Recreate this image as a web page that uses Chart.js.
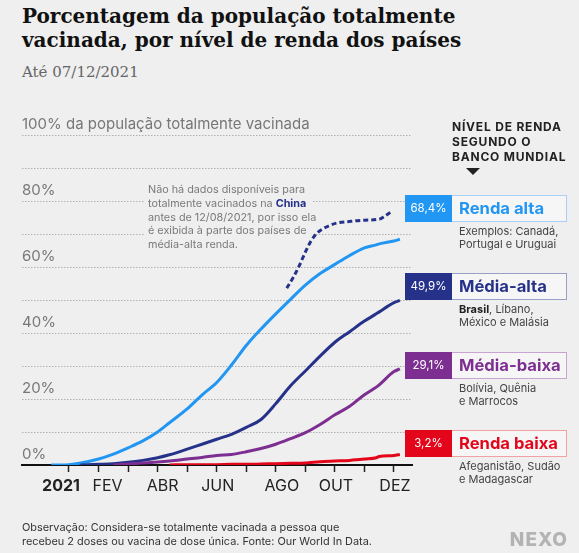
<!DOCTYPE html>
<html lang="pt-BR">
<head>
<meta charset="UTF-8">
<title>Porcentagem da população totalmente vacinada</title>
<script src="https://cdn.jsdelivr.net/npm/chart.js"></script>
<style>
  body { margin: 0; background: #efefef; }
  .wrap { position: relative; width: 579px; height: 553px; overflow: hidden; background: #efefef; }
  #chart { position: absolute; left: 0; top: 0; }
  .title { position: absolute; left: 22px; top: 5px; margin: 0; font: bold 20px/23.5px "DejaVu Serif", serif; color: #111; }
  .sub { position: absolute; left: 22px; top: 63px; margin: 0; font: 15px/18px "DejaVu Serif", serif; color: #666; }
  .note { position: absolute; left: 22px; top: 520px; margin: 0; font: 10.9px/14px Inter, sans-serif; color: #333; }
  .logo { position: absolute; right: 11px; top: 530px; font: 800 19px/20px Inter, sans-serif; color: #b3b3b3; letter-spacing: 1px; }
</style>
</head>
<body>
<div class="wrap">
  <h1 class="title">Porcentagem da população totalmente<br>vacinada, por nível de renda dos países</h1>
  <p class="sub">Até 07/12/2021</p>
  <canvas id="chart" width="579" height="553"></canvas>
  <p class="note">Observação: Considera-se totalmente vacinada a pessoa que<br>recebeu 2 doses ou vacina de dose única. Fonte: Our World In Data.</p>
  <div class="logo">NEXO</div>
</div>
<script>
// months since 1 Jan 2021
const monthTicks = [0, 1, 2, 3, 4, 5, 6, 7, 8, 9, 10, 11];
const monthLabels = ['2021', 'FEV', '', 'ABR', '', 'JUN', '', 'AGO', '', 'OUT', '', 'DEZ'];

const days = [-0.6, -0.3, 0, 0.4, 1, 1.5, 2, 2.5, 3, 3.4, 4, 4.5, 5, 5.5, 6, 6.5, 7, 7.5, 8, 8.5, 9, 9.5, 10, 10.4, 10.5, 11, 11.2];

const rendaAlta  = [0, 0, 0.1, 0.6, 1.8, 3.3, 5.2, 7.3, 10, 12.8, 17, 21.2, 25, 30.3, 36.2, 41.2, 45.8, 50.2, 54.5, 58, 60.8, 63.5, 65.8, 66.7, 67, 67.9, 68.4];
const mediaAlta  = [null, null, null, 0, 0.2, 0.4, 0.8, 1.4, 2.2, 3.1, 4.8, 6.3, 7.8, 9.3, 11.4, 13.8, 18.6, 24, 28.5, 33, 37.2, 40.4, 43.6, 45.8, 46.4, 49.2, 49.9];
const mediaBaixa = [null, null, null, null, null, 0, 0.3, 0.6, 0.9, 1.2, 1.8, 2.3, 2.9, 3.2, 4, 5, 6.3, 8, 9.8, 12.3, 15.2, 17.8, 21.3, 23.6, 24.3, 28.3, 29.1];
const rendaBaixa = [null, null, null, null, null, null, null, null, null, 0, 0.1, 0.1, 0.1, 0.2, 0.2, 0.3, 0.4, 0.5, 0.6, 1.0, 1.2, 1.4, 1.8, 2.2, 2.6, 2.9, 3.2];

// China, only from 12/08/2021
const chinaDays = [7.37, 7.6, 7.8, 8.0, 8.2, 8.4, 8.6, 8.8, 9.05, 9.5, 10, 10.5, 10.7, 10.9];
const china     = [53.6, 57, 60.5, 64.5, 68, 70.3, 71.6, 72.5, 73.3, 73.8, 74.2, 74.5, 75.5, 76.7];

const groupNames = ['Renda alta', 'Média-alta', 'Média-baixa', 'Renda baixa'];
const groupFinal = [68.4, 49.9, 29.1, 3.2];
const groupDesc = [
  ['Exemplos: Canadá,', 'Portugal e Uruguai'],
  ['**Brasil**, Líbano,', 'México e Malásia'],
  ['Bolívia, Quênia', 'e Marrocos'],
  ['Afeganistão, Sudão', 'e Madagascar']
];
const groupColors = ['#2196f3', '#26328a', '#7d2e91', '#e3061a'];
const groupBorders = ['#a9d0f5', '#9a9fc8', '#c9a3d2', '#f1a0a6'];

const annotationLines = [
  'Não há dados disponíveis para',
  'totalmente vacinados na **China**',
  'antes de 12/08/2021, por isso ela',
  'é exibida à parte dos países de',
  'média-alta renda.'
];

// small nudges of the month labels, as in the original layout
const labelShift = [-8, 9, 0, 5, 0, 1, 0, 6, 0, 1, 0, 1];

const toPoints = (xs, ys) => xs.map((x, i) => ({ x: x, y: ys[i] }));

// draws a line with **bold** parts
function drawRuns(ctx, text, x, y, size, color, boldColor) {
  const parts = text.split('**');
  parts.forEach((p, i) => {
    const bold = i % 2 === 1;
    ctx.font = (bold ? 'bold ' : '') + size + 'px Inter';
    ctx.fillStyle = bold ? boldColor : color;
    ctx.fillText(p, x, y);
    x += ctx.measureText(p).width;
  });
}

// China note, on a patch of background so the grid does not run through it
const annotationPlugin = {
  id: 'annotation',
  beforeDatasetsDraw(chart) {
    const ctx = chart.ctx;
    ctx.save();
    ctx.textBaseline = 'middle';
    ctx.textAlign = 'left';
    annotationLines.forEach((line, i) => {
      const y = 190 + i * 13.7;
      ctx.font = 'bold 10.8px Inter';
      const w = ctx.measureText(line.replace(/\*\*/g, '')).width;
      ctx.fillStyle = '#efefef';
      ctx.fillRect(145, y - 7, w + 5, 14);
      drawRuns(ctx, line, 148, y, 10.8, '#7a7a7a', '#26328a');
    });
    ctx.restore();
  }
};

// month names sit a little off their ticks in the original
const monthLabelPlugin = {
  id: 'monthLabels',
  afterDraw(chart) {
    const { ctx, scales: { x, y } } = chart;
    const base = y.getPixelForValue(0);
    ctx.save();
    ctx.textAlign = 'center';
    ctx.textBaseline = 'middle';
    ctx.fillStyle = '#222';
    monthTicks.forEach((m, i) => {
      if (monthLabels[i]) {
        ctx.font = (i === 0 ? 'bold ' : '') + '16px Inter';
        ctx.fillText(monthLabels[i], x.getPixelForValue(m) + labelShift[i], base + 21);
      }
    });
    ctx.restore();
  }
};

const panelTops = [195, 273, 352, 430];

const panelPlugin = {
  id: 'panel',
  afterDraw(chart) {
    const ctx = chart.ctx;
    ctx.save();
    ctx.textBaseline = 'middle';
    ctx.textAlign = 'left';
    ctx.fillStyle = '#222';
    ctx.font = 'bold 12px Inter';
    ctx.letterSpacing = '0.8px';
    ['NÍVEL DE RENDA', 'SEGUNDO O', 'BANCO MUNDIAL'].forEach((t, i) => ctx.fillText(t, 452, 127 + i * 15));
    ctx.letterSpacing = '0px';
    ctx.beginPath();
    ctx.moveTo(466, 168);
    ctx.lineTo(480, 168);
    ctx.lineTo(473, 175);
    ctx.closePath();
    ctx.fill();

    groupNames.forEach((name, i) => {
      const top = panelTops[i];
      const h = 27;
      ctx.fillStyle = groupBorders[i];
      ctx.fillRect(405, top, 162, h);
      ctx.fillStyle = '#f6f6f6';
      ctx.fillRect(406, top + 1, 160, h - 2);
      ctx.fillStyle = groupColors[i];
      ctx.fillRect(405, top, 47, h);

      ctx.textAlign = 'center';
      ctx.fillStyle = '#fff';
      ctx.font = '11.5px Inter';
      ctx.fillText(groupFinal[i].toFixed(1).replace('.', ',') + '%', 428.5, top + h / 2 + 0.5);

      ctx.textAlign = 'left';
      ctx.fillStyle = groupColors[i];
      ctx.font = 'bold 16.6px Inter';
      ctx.fillText(name, 459, top + h / 2 + 0.5);

      groupDesc[i].forEach((line, j) => {
        drawRuns(ctx, line, 459, top + 37 + j * 13, 11, '#444', '#222');
      });
    });
    ctx.restore();
  }
};

const lineStyle = { borderWidth: 3, pointRadius: 0, fill: false, cubicInterpolationMode: 'monotone' };

new Chart(document.getElementById('chart'), {
  type: 'line',
  data: {
    datasets: [
      Object.assign({ label: 'Renda baixa', data: toPoints(days, rendaBaixa), borderColor: groupColors[3] }, lineStyle),
      Object.assign({ label: 'Média-baixa', data: toPoints(days, mediaBaixa), borderColor: groupColors[2] }, lineStyle),
      Object.assign({ label: 'China', data: toPoints(chinaDays, china), borderColor: groupColors[1], borderDash: [5, 3] }, lineStyle),
      Object.assign({ label: 'Média-alta', data: toPoints(days, mediaAlta), borderColor: groupColors[1] }, lineStyle),
      Object.assign({ label: 'Renda alta', data: toPoints(days, rendaAlta), borderColor: groupColors[0] }, lineStyle)
    ]
  },
  options: {
    responsive: false,
    animation: false,
    layout: { padding: { left: 22, right: 167, top: 135, bottom: 48 } },
    plugins: { legend: { display: false }, tooltip: { enabled: false } },
    scales: {
      x: {
        type: 'linear',
        min: -1.59,
        max: 11.61,
        afterFit: s => { s.height = 40; },
        afterBuildTicks: s => { s.ticks = monthTicks.map(v => ({ value: v })); },
        grid: { drawOnChartArea: false, drawTicks: true, tickLength: 7, tickColor: '#222', tickWidth: 1.5 },
        border: { display: true, color: '#111', width: 2 },
        ticks: { display: false }
      },
      y: {
        min: 0,
        max: 100,
        afterFit: s => { s.width = 0; },
        grid: { color: '#b0b0b0', lineWidth: 1, drawTicks: false },
        border: { display: false, dash: [1.5, 1.5] },
        ticks: {
          stepSize: 10,
          mirror: true,
          padding: 0,
          labelOffset: -11,
          color: '#777',
          font: { family: 'Inter', size: 15 },
          callback: v => v === 100 ? '100% da população totalmente vacinada' : (v % 20 === 0 ? v + '%' : '')
        }
      }
    }
  },
  plugins: [annotationPlugin, monthLabelPlugin, panelPlugin]
});
</script>
</body>
</html>
